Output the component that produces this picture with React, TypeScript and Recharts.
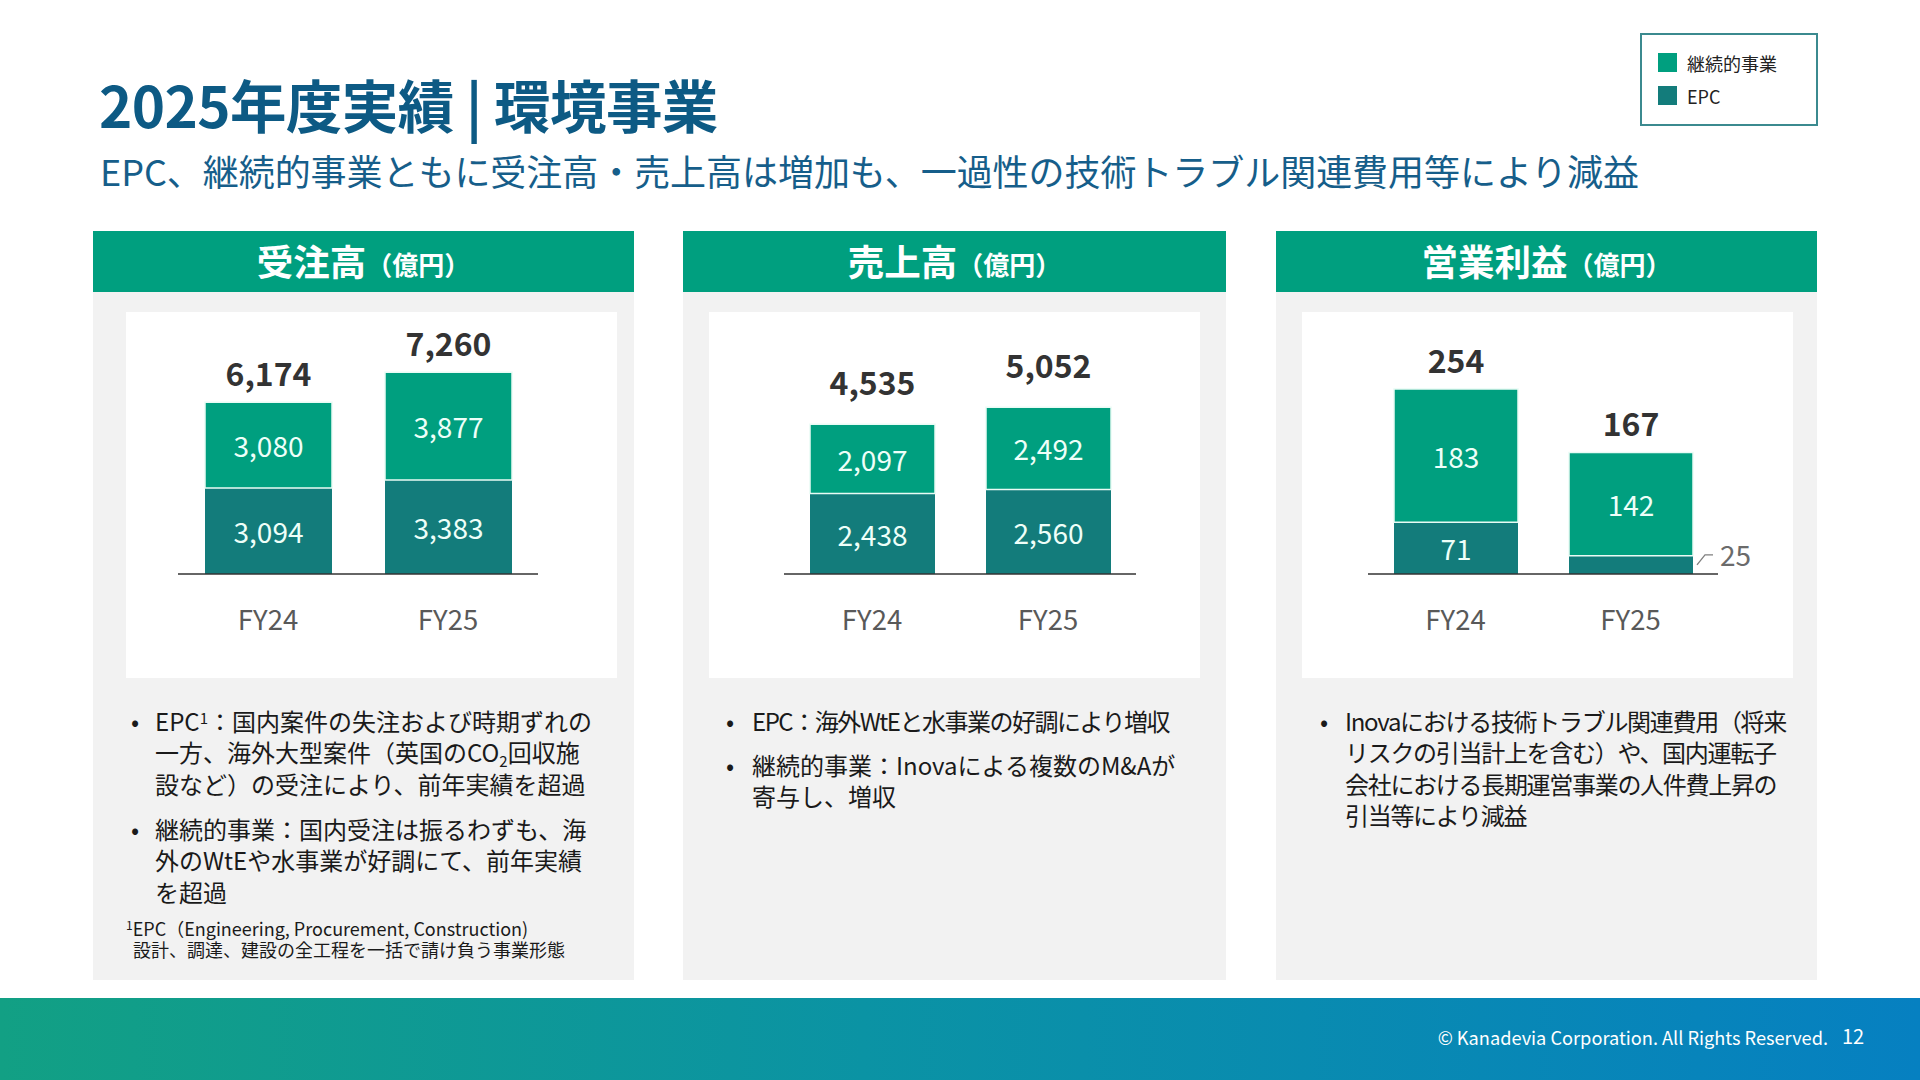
import React from "react";
import { BarChart, Bar, XAxis, YAxis, LabelList } from "recharts";

const categories = ["FY24", "FY25"];
const seriesNames = ["継続的事業", "EPC"];
const seriesColors = ["#009f7f", "#137c7b"];

const ordersContinuing = [3080, 3877];
const ordersEpc = [3094, 3383];
const ordersTotal = [6174, 7260];

const salesContinuing = [2097, 2492];
const salesEpc = [2438, 2560];
const salesTotal = [4535, 5052];

const profitContinuing = [183, 142];
const profitEpc = [71, 25];
const profitTotal = [254, 167];

const FONT = '"Noto Sans CJK JP", "Noto Sans", sans-serif';

function buildRows(cont: number[], epc: number[], total: number[]) {
  return categories.map((c, i) => ({ category: c, continuing: cont[i], epc: epc[i], total: total[i] }));
}

const fmt = (v: number) => Number(v).toLocaleString("en-US");

const Tick = (props: any) => {
  const { x, y, payload } = props;
  return (
    <text x={x} y={y + 43.5} textAnchor="middle" dominantBaseline="central" fontSize={27.5} fill="#595959" fontFamily={FONT}>
      {payload.value}
    </text>
  );
};

const makeTotalLabel = (gap: number) => (props: any) => {
  const { x, y, width, value } = props;
  return (
    <text x={x + width / 2} y={y - gap} textAnchor="middle" dominantBaseline="central" fontSize={32} fontWeight={700} fill="#333333" fontFamily={FONT}>
      {fmt(value)}
    </text>
  );
};

const SegLabel = (props: any) => {
  const { x, y, width, height, value } = props;
  const cy = y + height / 2;
  if (height < 30) {
    const sx = x + width + 4;
    return (
      <g>
        <polyline points={`${sx},${cy} ${sx + 8},${cy - 10} ${sx + 16},${cy - 10}`} fill="none" stroke="#7f7f7f" strokeWidth={1.3} />
        <text x={sx + 23} y={cy - 11} textAnchor="start" dominantBaseline="central" fontSize={28} fill="#6b6b6b" fontFamily={FONT}>
          {fmt(value)}
        </text>
      </g>
    );
  }
  return (
    <text x={x + width / 2} y={cy} textAnchor="middle" dominantBaseline="central" fontSize={28} fill="#eefff9" fontFamily={FONT}>
      {fmt(value)}
    </text>
  );
};

type ChartProps = {
  rows: any[];
  left: number;
  marginLeft: number;
  marginRight: number;
  domainMax: number;
  barSize: number;
  totalGap: number;
};

const StackChart = ({ rows, left, marginLeft, marginRight, domainMax, barSize, totalGap }: ChartProps) => {
  const TotalLabel = makeTotalLabel(totalGap);
  return (
    <div style={{ position: "absolute", left, top: 312, width: 491, height: 366 }}>
      <BarChart width={491} height={366} data={rows} margin={{ top: 28, right: marginRight, bottom: 44, left: marginLeft }}>
        <XAxis
          dataKey="category"
          height={60}
          tickLine={false}
          tickSize={0}
          tickMargin={0}
          axisLine={{ stroke: "#333333", strokeWidth: 1.6 }}
          tick={<Tick />}
          interval={0}
        />
        <YAxis hide type="number" domain={[0, domainMax]} allowDataOverflow />
        <Bar dataKey="epc" stackId="a" fill={seriesColors[1]} barSize={barSize} isAnimationActive={false}>
          <LabelList dataKey="epc" content={<SegLabel />} />
        </Bar>
        <Bar dataKey="continuing" stackId="a" fill={seriesColors[0]} stroke="#e9fbf5" strokeWidth={1.5} barSize={barSize} isAnimationActive={false}>
          <LabelList dataKey="continuing" content={<SegLabel />} />
          <LabelList dataKey="total" content={<TotalLabel />} />
        </Bar>
      </BarChart>
    </div>
  );
};

const Panel = ({ left, width, title }: { left: number; width: number; title: string }) => (
  <>
    <div
      style={{
        position: "absolute",
        left,
        top: 231,
        width,
        height: 61,
        background: "#009f7f",
        display: "flex",
        alignItems: "center",
        justifyContent: "center",
        color: "#ffffff",
        fontWeight: 700,
      }}
    >
      <span style={{ fontSize: 36.5, lineHeight: 1 }}>{title}</span>
      <span style={{ fontSize: 26, lineHeight: 1, marginTop: 4 }}>（億円）</span>
    </div>
    <div style={{ position: "absolute", left, top: 292, width, height: 688, background: "#f2f2f2" }} />
  </>
);

const WhiteBox = ({ left }: { left: number }) => (
  <div style={{ position: "absolute", left, top: 312, width: 491, height: 366, background: "#ffffff" }} />
);

const Bullet = ({ x, textX, top, lines, spacing = 0 }: { x: number; textX: number; top: number; lines: React.ReactNode[]; spacing?: number }) => (
  <div style={{ position: "absolute", left: x, top, fontSize: 24, lineHeight: "31.3px", color: "#1a1a1a", whiteSpace: "nowrap" }}>
    <span style={{ position: "absolute", left: 0, top: 0 }}>•</span>
    <div style={{ position: "absolute", left: textX - x, top: 0, letterSpacing: spacing }}>
      {lines.map((l, i) => (
        <div key={i}>{l}</div>
      ))}
    </div>
  </div>
);

export default function App() {
  const ordersRows = buildRows(ordersContinuing, ordersEpc, ordersTotal);
  const salesRows = buildRows(salesContinuing, salesEpc, salesTotal);
  const profitRows = buildRows(profitContinuing, profitEpc, profitTotal);

  return (
    <div
      style={{
        position: "absolute",
        left: 0,
        top: 0,
        width: 1920,
        height: 1080,
        background: "#ffffff",
        fontFamily: FONT,
        overflow: "hidden",
      }}
    >
      <div style={{ position: "absolute", left: 99, top: 75, fontSize: 56.5, fontWeight: 700, lineHeight: 1, color: "#0d5a84", whiteSpace: "nowrap", letterSpacing: -0.6 }}>
        2025年度実績 | 環境事業
      </div>
      <div style={{ position: "absolute", left: 100, top: 152, fontSize: 36, lineHeight: 1, color: "#165e8a", whiteSpace: "nowrap", letterSpacing: -0.05 }}>
        EPC、継続的事業ともに受注高・売上高は増加も、一過性の技術トラブル関連費用等により減益
      </div>

      <div style={{ position: "absolute", left: 1640, top: 33, width: 174, height: 89, border: "2px solid #3b8a8f", background: "#ffffff" }}>
        {seriesNames.map((n, i) => (
          <div key={n} style={{ position: "absolute", left: 16, top: 18 + i * 33, display: "flex", alignItems: "center", height: 19 }}>
            <span style={{ width: 19, height: 19, background: seriesColors[i], display: "inline-block" }} />
            <span style={{ marginLeft: 10, fontSize: 18, color: "#222222", lineHeight: 1 }}>{n}</span>
          </div>
        ))}
      </div>

      <Panel left={93} width={541} title="受注高" />
      <Panel left={683} width={543} title="売上高" />
      <Panel left={1276} width={541} title="営業利益" />

      <WhiteBox left={126} />
      <WhiteBox left={709} />
      <WhiteBox left={1302} />

      <StackChart rows={ordersRows} left={126} marginLeft={52} marginRight={79} domainMax={8417} barSize={127} totalGap={30} />
      <StackChart rows={salesRows} left={709} marginLeft={75} marginRight={64} domainMax={7090} barSize={125} totalGap={43} />
      <StackChart rows={profitRows} left={1302} marginLeft={66} marginRight={75} domainMax={321.4} barSize={124} totalGap={30} />

      <Bullet
        x={131}
        textX={155}
        top={705}
        lines={[
          <span>EPC<sup style={{ fontSize: 15, verticalAlign: "7px", lineHeight: 0 }}>1</sup>：国内案件の失注および時期ずれの</span>,
          <span>一方、海外大型案件（英国のCO<sub style={{ fontSize: 15, verticalAlign: "-5px", lineHeight: 0 }}>2</sub>回収施</span>,
          <span>設など）の受注により、前年実績を超過</span>,
        ]}
      />
      <Bullet
        x={131}
        textX={155}
        top={813}
        lines={[<span>継続的事業：国内受注は振るわずも、海</span>, <span>外のWtEや水事業が好調にて、前年実績</span>, <span>を超過</span>]}
      />
      <div style={{ position: "absolute", left: 126, top: 918, fontSize: 18, lineHeight: "21px", color: "#1a1a1a", whiteSpace: "nowrap" }}>
        <div>
          <sup style={{ fontSize: 12, verticalAlign: "6px", lineHeight: 0 }}>1</sup>EPC（Engineering, Procurement, Construction)
        </div>
        <div style={{ paddingLeft: 7 }}>設計、調達、建設の全工程を一括で請け負う事業形態</div>
      </div>

      <Bullet x={726} textX={752} top={705} spacing={-1.5} lines={[<span>EPC：海外WtEと水事業の好調により増収</span>]} />
      <Bullet
        x={726}
        textX={752}
        top={749}
        lines={[<span>継続的事業：Inovaによる複数のM&amp;Aが</span>, <span>寄与し、増収</span>]}
      />

      <Bullet
        x={1320}
        textX={1345}
        top={705}
        spacing={-1.3}
        lines={[
          <span>Inovaにおける技術トラブル関連費用（将来</span>,
          <span>リスクの引当計上を含む）や、国内運転子</span>,
          <span>会社における長期運営事業の人件費上昇の</span>,
          <span>引当等により減益</span>,
        ]}
      />

      <div
        style={{
          position: "absolute",
          left: 0,
          top: 998,
          width: 1920,
          height: 82,
          background: "linear-gradient(90deg, #12a084 0%, #0b93a4 45%, #0680c1 100%)",
        }}
      >
        <div style={{ position: "absolute", right: 92, top: 28, fontSize: 18.2, lineHeight: "22px", color: "#ffffff", whiteSpace: "nowrap" }}>
          © Kanadevia Corporation. All Rights Reserved.
        </div>
        <div style={{ position: "absolute", left: 1842, top: 27, fontSize: 20, lineHeight: "22px", color: "#ffffff" }}>12</div>
      </div>
    </div>
  );
}
